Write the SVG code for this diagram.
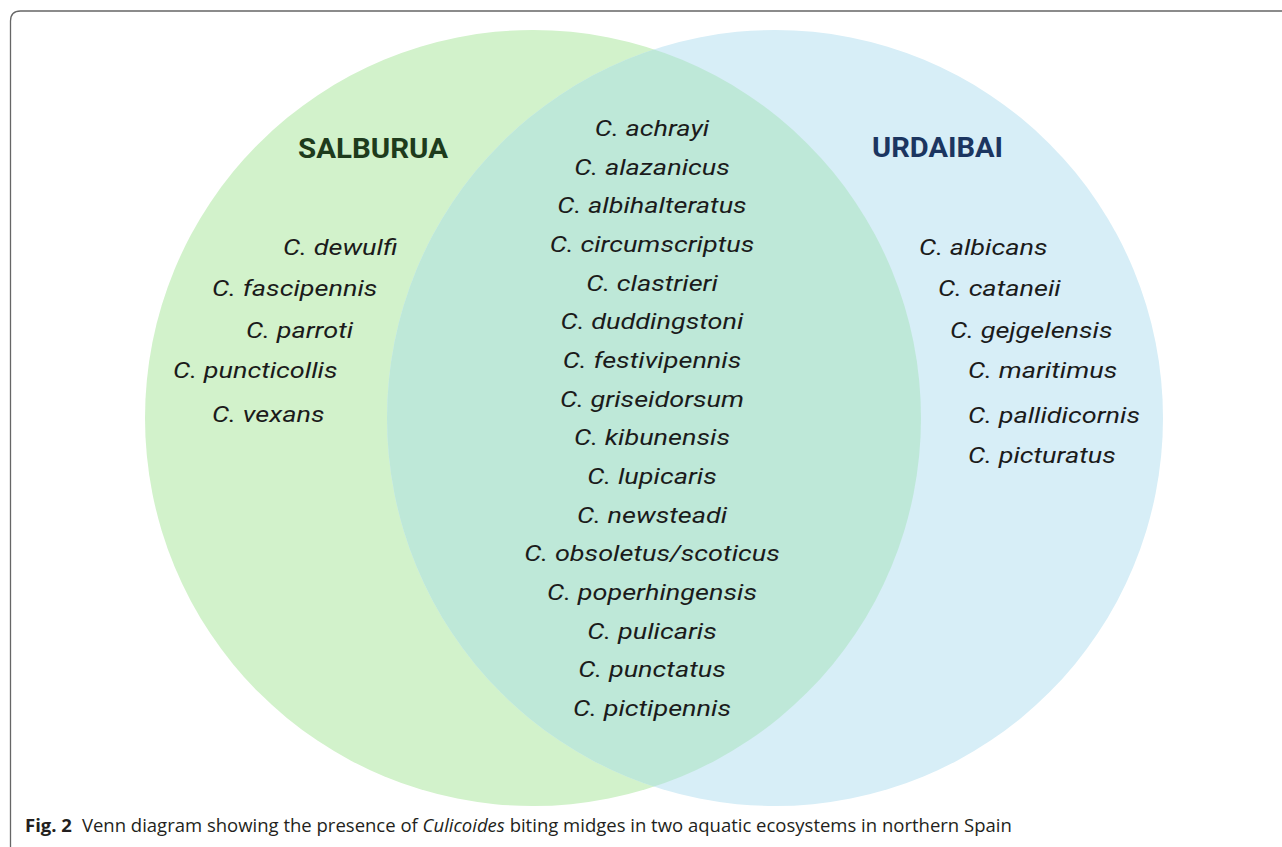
<svg xmlns="http://www.w3.org/2000/svg" width="1282" height="847" viewBox="0 0 1282 847">
<style>
.sp{font-family:Roboto,"Liberation Sans",sans-serif;font-style:italic;font-size:22px;fill:#1b1b1b}
.mid{text-anchor:middle}
.title{font-family:Roboto,"Liberation Sans",sans-serif;font-weight:bold;font-size:28px}
.cap{font-family:"Open Sans","Liberation Sans",sans-serif;font-size:18.5px;fill:#231f20}
</style>
<defs>
<clipPath id="clipL"><circle cx="533" cy="418" r="388"/></clipPath>
</defs>
<rect width="1282" height="847" fill="#ffffff"/>
<path d="M10.5 850 V21 Q10.5 11 20.5 11 H1290" fill="none" stroke="#666666" stroke-width="1.3"/>
<g id="salburua">
<circle cx="533" cy="418" r="388" fill="#d2f2cb"/>
</g>
<g id="urdaibai">
<circle cx="775" cy="418" r="388" fill="#d7eef7"/>
</g>
<g id="overlap">
<circle cx="775" cy="418" r="388" fill="#bee8d8" clip-path="url(#clipL)"/>
</g>
<g id="salburua-labels">
<text class="title" x="298" y="158" fill="#1e3b1c" textLength="150" lengthAdjust="spacingAndGlyphs">SALBURUA</text>
<g transform="matrix(1.23 0 0 1 0 0)">
<text class="sp" x="230.1" y="255">C. dewulfi</text>
<text class="sp" x="172.4" y="296">C. fascipennis</text>
<text class="sp" x="200" y="338">C. parroti</text>
<text class="sp" x="140.7" y="378">C. puncticollis</text>
<text class="sp" x="172.4" y="422">C. vexans</text>
</g>
</g>
<g id="urdaibai-labels">
<text class="title" x="872" y="157" fill="#1b3560" textLength="131" lengthAdjust="spacingAndGlyphs">URDAIBAI</text>
<g transform="matrix(1.23 0 0 1 0 0)">
<text class="sp" x="747.2" y="255">C. albicans</text>
<text class="sp" x="762.6" y="296">C. cataneii</text>
<text class="sp" x="772.4" y="338">C. gejgelensis</text>
<text class="sp" x="787" y="378">C. maritimus</text>
<text class="sp" x="787" y="423">C. pallidicornis</text>
<text class="sp" x="787" y="463">C. picturatus</text>
</g>
</g>
<g id="shared-labels">
<g transform="matrix(1.23 0 0 1 0 0)">
<text class="sp mid" x="530.1" y="136">C. achrayi</text>
<text class="sp mid" x="530.1" y="175">C. alazanicus</text>
<text class="sp mid" x="530.1" y="213">C. albihalteratus</text>
<text class="sp mid" x="530.1" y="252">C. circumscriptus</text>
<text class="sp mid" x="530.1" y="291">C. clastrieri</text>
<text class="sp mid" x="530.1" y="329">C. duddingstoni</text>
<text class="sp mid" x="530.1" y="368">C. festivipennis</text>
<text class="sp mid" x="530.1" y="407">C. griseidorsum</text>
<text class="sp mid" x="530.1" y="445">C. kibunensis</text>
<text class="sp mid" x="530.1" y="484">C. lupicaris</text>
<text class="sp mid" x="530.1" y="523">C. newsteadi</text>
<text class="sp mid" x="530.1" y="561">C. obsoletus/scoticus</text>
<text class="sp mid" x="530.1" y="600">C. poperhingensis</text>
<text class="sp mid" x="530.1" y="639">C. pulicaris</text>
<text class="sp mid" x="530.1" y="677">C. punctatus</text>
<text class="sp mid" x="530.1" y="716">C. pictipennis</text>
</g>
</g>
<g id="caption">
<text class="cap" x="25" y="832"><tspan font-weight="bold">Fig. 2</tspan><tspan dx="10">Venn diagram showing the presence of </tspan><tspan font-style="italic">Culicoides</tspan><tspan> biting midges in two aquatic ecosystems in northern Spain</tspan></text>
</g>
</svg>
